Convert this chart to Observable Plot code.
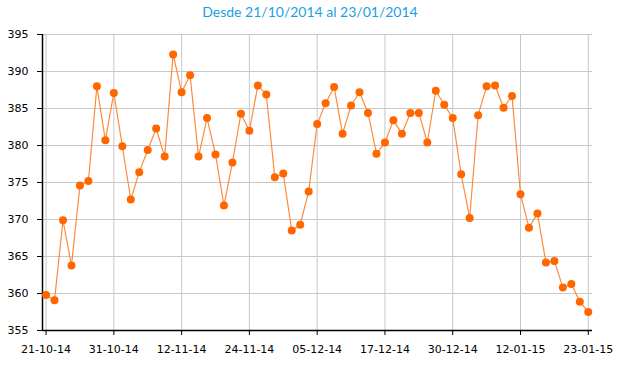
<!DOCTYPE html>
<html>
<head>
<meta charset="utf-8">
<script src="https://cdn.jsdelivr.net/npm/d3@7"></script>
<script src="https://cdn.jsdelivr.net/npm/@observablehq/plot@0.6"></script>
<style>
  body { margin: 0; background: #fff; }
  #title { width: 620px; height: 24px; line-height: 24px; text-align: center; font-family: "Lato", sans-serif; font-size: 14px; color: #1a9fe3; }
</style>
</head>
<body>
<div id="title">Desde 21/10/2014 al 23/01/2014</div>
<div id="chart"></div>
<script>
const values = [
  359.8, 359.1, 369.9, 363.8, 374.6, 375.2, 388.0, 380.7,
  387.1, 379.9, 372.7, 376.4, 379.4, 382.3, 378.5, 392.3,
  387.2, 389.5, 378.5, 383.7, 378.8, 371.9, 377.7, 384.3,
  382.0, 388.1, 386.9, 375.7, 376.2, 368.5, 369.3, 373.8,
  382.9, 385.7, 387.9, 381.6, 385.4, 387.2, 384.4, 378.9,
  380.4, 383.4, 381.6, 384.4, 384.4, 380.4, 387.4, 385.5,
  383.7, 376.1, 370.2, 384.1, 388.0, 388.1, 385.1, 386.7,
  373.4, 368.9, 370.8, 364.2, 364.4, 360.8, 361.3, 358.9,
  357.5
];
const tickLabels = ["21-10-14", "31-10-14", "12-11-14", "24-11-14", "05-12-14", "17-12-14", "30-12-14", "12-01-15", "23-01-15"];
const yTicks = [355, 360, 365, 370, 375, 380, 385, 390, 395];

const data = values.map((v, i) => ({i, v}));
const tickIdx = tickLabels.map((_, k) => k * 8);
const xMin = -0.42, xMax = 64.5;

const chart = Plot.plot({
  width: 620,
  height: 351,
  marginTop: 10,
  marginBottom: 45,
  marginLeft: 42,
  marginRight: 28,
  style: {fontFamily: "'DejaVu Sans', sans-serif", fontSize: "11px", color: "#000"},
  x: {domain: [xMin, xMax], ticks: tickIdx, tickFormat: (d) => tickLabels[d / 8], tickSize: 5, tickPadding: 10, label: null},
  y: {domain: [355, 395], ticks: yTicks, tickSize: 5, tickPadding: 9, label: null},
  marks: [
    Plot.gridY(yTicks, {stroke: "#c8c8c8", strokeOpacity: 1}),
    Plot.gridX(tickIdx, {stroke: "#c8c8c8", strokeOpacity: 1}),
    Plot.axisX({ticks: tickIdx, tickFormat: (d) => tickLabels[d / 8], tickSize: 5, tickPadding: 10, label: null, stroke: "#000"}),
    Plot.axisY({ticks: yTicks, tickSize: 5, tickPadding: 9, label: null, stroke: "#000"}),
    Plot.ruleX([xMin], {stroke: "#000", strokeWidth: 1.5}),
    Plot.ruleY([355], {stroke: "#000", strokeWidth: 1.5}),
    Plot.line(data, {x: "i", y: "v", stroke: "#ff8a3d", strokeWidth: 1.2}),
    Plot.dot(data, {x: "i", y: "v", r: 4, fill: "#ff6600", stroke: "none"})
  ]
});
document.getElementById("chart").appendChild(chart);
</script>
</body>
</html>
